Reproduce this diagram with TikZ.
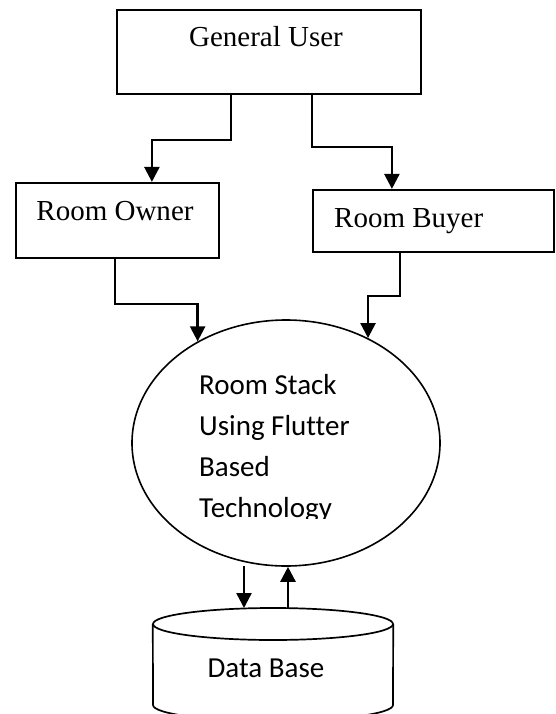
\documentclass[tikz,border=0pt]{standalone}
\usepackage{fontspec}
\setmainfont{Liberation Serif}
\newfontfamily\calib[Ligatures=CommonOff]{Carlito}
\usetikzlibrary{arrows.meta,shapes.geometric,calc}
\tikzset{
  box/.style={draw, line width=2.2pt, rectangle, inner sep=0pt},
  serif/.style={font=\fontsize{29}{35}\selectfont, inner sep=0pt},
  sans/.style={font=\calib\fontsize{29}{35}\selectfont, inner sep=0pt},
  conn/.style={line width=2.5pt, -{Triangle[width=15pt,length=15pt]}},
  thin/.style={line width=1.6pt}
}
\begin{document}
\begin{tikzpicture}[x=1pt,y=-1pt]
\useasboundingbox (0,0) rectangle (556,714);
\begin{scope}
\clip (0,0) rectangle (556,714);
% boxes
\node[box, minimum width=304pt, minimum height=84pt] (gu) at (269,52) {};
\node[serif, anchor=base] (gut) at (266,47) {General User};
\node[box, minimum width=203pt, minimum height=75pt] (ro) at (117.5,220.5) {};
\node[serif, anchor=base] (rot) at (115,220) {Room Owner};
\node[box, minimum width=241pt, minimum height=62pt] (rb) at (433.5,221) {};
\node[serif, anchor=base west] (rbt) at (334,227) {Room Buyer};
% system ellipse
\node[draw, thin, ellipse, minimum width=308pt, minimum height=246pt, inner sep=0pt] (sys) at (286,443) {};
\begin{scope}
\clip (150,340) rectangle (440,518);
\node[sans, anchor=base west] (s1) at (199,394) {Room Stack};
\node[sans, anchor=base west] (s2) at (199,435) {Using Flutter};
\node[sans, anchor=base west] (s3) at (199,476) {Based};
\node[sans, anchor=base west] (s4) at (199,517) {Technology};
\end{scope}
% database cylinder
\node[minimum width=240pt, minimum height=100pt, inner sep=0pt, anchor=north] (db) at (273,608) {};
\draw[line width=1.7pt] (db.north west |- 0,624) -- (153,705) arc[start angle=180, end angle=0, x radius=120, y radius=16] -- (db.north east |- 0,624);
\draw[line width=1.7pt] (273,624) ellipse [x radius=120, y radius=16];
\node[sans, anchor=base] (dbt) at (266,677) {Data Base};
% connectors
\draw[conn] ([xshift=115pt]gu.south west) -- ++(0,45) -| ([xshift=137pt]ro.north west);
\draw[conn] ([xshift=196pt]gu.south west) -- ++(0,52) -| ([xshift=80pt]rb.north west);
\draw[conn] ([xshift=100pt]ro.south west) -- ++(0,45) -| (sys.131);
\draw[conn] ([xshift=88pt]rb.south west) -- ++(0,43) -| (sys.52);
\coordinate (d1) at (244,566);
\coordinate (u1) at (288,608);
\draw[conn] (d1) -- (d1 |- db.north);
\draw[conn] (u1) -- (u1 |- sys.south);
\end{scope}
\end{tikzpicture}
\end{document}
